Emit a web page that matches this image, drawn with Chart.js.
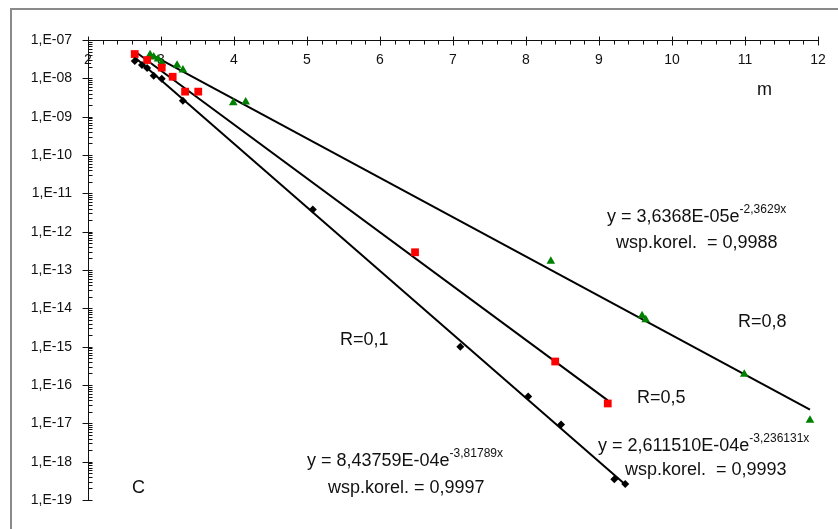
<!DOCTYPE html>
<html>
<head>
<meta charset="utf-8">
<script src="https://cdn.jsdelivr.net/npm/chart.js@4.4.1/dist/chart.umd.min.js"></script>
<style>
  body { margin: 0; background: #fff; }
  canvas { display: block; }
</style>
</head>
<body>
<canvas id="chart" width="838" height="529"></canvas>
<script>
// R=0,1 - black diamonds
const xR01 = [2.64, 2.74, 2.81, 2.90, 3.01, 3.30, 5.08, 7.10, 8.03, 8.48, 9.21, 9.36];
const yR01 = [2.85e-8, 2.24e-8, 1.87e-8, 1.16e-8, 9.8e-9, 2.6e-9, 3.8e-12, 1.0e-15, 5.0e-17, 9.3e-18, 3.5e-19, 2.6e-19];
// R=0,5 - red squares
const xR05 = [2.64, 2.81, 3.01, 3.16, 3.33, 3.51, 6.48, 8.40, 9.12];
const yR05 = [4.3e-8, 3.0e-8, 1.9e-8, 1.1e-8, 4.5e-9, 4.5e-9, 2.9e-13, 4.1e-16, 3.3e-17];
// R=0,8 - green triangles
const xR08 = [2.85, 2.90, 2.96, 3.01, 3.22, 3.30, 3.99, 4.16, 8.34, 9.59, 9.64, 10.99, 11.89];
const yR08 = [4.1e-8, 3.6e-8, 3.2e-8, 2.5e-8, 2.2e-8, 1.66e-8, 2.3e-9, 2.4e-9, 1.7e-13, 6.4e-15, 5.0e-15, 1.9e-16, 1.2e-17];

// trend line end points
const fitX01 = [2.64, 9.36];
const fitY01 = [3.54e-8, 2.55e-19];
const fitX05 = [2.64, 9.12];
const fitY05 = [5.09e-8, 3.97e-17];
const fitX08 = [2.85, 11.89];
const fitY08 = [4.33e-8, 2.29e-17];

const xTicks = [2, 3, 4, 5, 6, 7, 8, 9, 10, 11, 12];
const yTickValues = [1e-7, 1e-8, 1e-9, 1e-10, 1e-11, 1e-12, 1e-13, 1e-14, 1e-15, 1e-16, 1e-17, 1e-18, 1e-19];
const yTickLabels = ['1,E-07', '1,E-08', '1,E-09', '1,E-10', '1,E-11', '1,E-12', '1,E-13', '1,E-14', '1,E-15', '1,E-16', '1,E-17', '1,E-18', '1,E-19'];

// text on the plot: [text, superscript, left, middle]
const notes = [
  ['y = 3,6368E-05e', '-2,3629x', 607, 217],
  ['wsp.korel.  = 0,9988', '', 616, 243],
  ['R=0,8', '', 738, 322],
  ['R=0,1', '', 340, 340],
  ['R=0,5', '', 637, 398],
  ['y = 2,611510E-04e', '-3,236131x', 598, 446],
  ['wsp.korel.  = 0,9993', '', 625, 470],
  ['y = 8,43759E-04e', '-3,81789x', 307, 461],
  ['wsp.korel. = 0,9997', '', 328, 488],
  ['C', '', 132, 488],
  ['m', '', 757, 90]
];

const FONT = '"Liberation Sans", Arial, sans-serif';

function pts(xs, ys) {
  return xs.map((x, i) => ({ x: x, y: ys[i] }));
}

const excelAxes = {
  id: 'excelAxes',
  afterDatasetsDraw(chart) {
    const ctx = chart.ctx;
    const xs = chart.scales.x;
    const ys = chart.scales.y;
    const a = chart.chartArea;
    ctx.save();

    // outer frame
    ctx.strokeStyle = '#8a8a8a';
    ctx.lineWidth = 2;
    ctx.beginPath();
    ctx.moveTo(11, 529);
    ctx.lineTo(11, 9);
    ctx.lineTo(838, 9);
    ctx.stroke();

    ctx.strokeStyle = '#111';
    ctx.lineWidth = 1;
    ctx.beginPath();
    const top = Math.round(a.top) + 0.5;
    const left = Math.round(a.left) + 0.5;
    ctx.moveTo(a.left, top);
    ctx.lineTo(a.right, top);
    ctx.moveTo(left, a.top);
    ctx.lineTo(left, a.bottom);

    xTicks.forEach(v => {
      const p = Math.round(xs.getPixelForValue(v)) + 0.5;
      ctx.moveTo(p, top - 4);
      ctx.lineTo(p, top + 5);
    });
    for (let i = 0; i < 50; i++) {
      if (i % 5 === 0) continue;
      const p = Math.round(xs.getPixelForValue(2 + i * 0.2)) + 0.5;
      ctx.moveTo(p, top);
      ctx.lineTo(p, top + 4);
    }
    yTickValues.forEach(v => {
      const p = Math.round(ys.getPixelForValue(v)) + 0.5;
      ctx.moveTo(left - 6, p);
      ctx.lineTo(left + 4, p);
      if (v < 1e-7) {
        for (let m = 2; m <= 9; m++) {
          const q = Math.round(ys.getPixelForValue(v * m)) + 0.5;
          ctx.moveTo(left, q);
          ctx.lineTo(left + 4, q);
        }
      }
    });
    ctx.stroke();

    // notes
    ctx.fillStyle = '#111';
    ctx.textBaseline = 'middle';
    ctx.textAlign = 'left';
    notes.forEach(n => {
      ctx.font = '18px ' + FONT;
      ctx.fillText(n[0], n[2], n[3]);
      if (n[1]) {
        const w = ctx.measureText(n[0]).width;
        ctx.font = '12px ' + FONT;
        ctx.fillText(n[1], n[2] + w, n[3] - 7);
      }
    });
    ctx.restore();
  }
};

new Chart(document.getElementById('chart'), {
  type: 'scatter',
  data: {
    datasets: [
      { label: 'R=0,1', data: pts(xR01, yR01), pointStyle: 'rectRot', pointRadius: 4,
        backgroundColor: '#000', borderColor: '#000', borderWidth: 0, order: 0 },
      { label: 'R=0,5', data: pts(xR05, yR05), pointStyle: 'rect', pointRadius: 5.5,
        backgroundColor: '#ff0000', borderColor: '#ff0000', borderWidth: 0, order: 0 },
      { label: 'R=0,8', data: pts(xR08, yR08), pointStyle: 'triangle', pointRadius: 5,
        backgroundColor: '#008000', borderColor: '#008000', borderWidth: 0, order: 0 },
      { label: 'fit 0,1', data: pts(fitX01, fitY01), showLine: true, pointRadius: 0,
        borderColor: '#000', borderWidth: 2, order: 1 },
      { label: 'fit 0,5', data: pts(fitX05, fitY05), showLine: true, pointRadius: 0,
        borderColor: '#000', borderWidth: 2, order: 1 },
      { label: 'fit 0,8', data: pts(fitX08, fitY08), showLine: true, pointRadius: 0,
        borderColor: '#000', borderWidth: 2, order: 1 }
    ]
  },
  options: {
    responsive: false,
    animation: false,
    layout: { padding: { left: 0, top: 0, right: 20, bottom: 29 } },
    plugins: { legend: { display: false }, tooltip: { enabled: false } },
    scales: {
      x: {
        type: 'linear',
        position: 'top',
        min: 2,
        max: 12,
        grid: { display: false },
        border: { display: false },
        afterFit: s => { s.height = 40; },
        ticks: { stepSize: 1, mirror: true, padding: 12, color: '#111',
          font: { family: FONT, size: 14 } }
      },
      y: {
        type: 'logarithmic',
        min: 1e-19,
        max: 1e-7,
        grid: { display: false },
        border: { display: false },
        afterBuildTicks: s => { s.ticks = yTickValues.slice().reverse().map(v => ({ value: v })); },
        afterFit: s => { s.width = 88; },
        ticks: {
          autoSkip: false,
          padding: 8,
          color: '#111',
          font: { family: FONT, size: 14 },
          callback: v => {
            const i = yTickValues.findIndex(t => Math.abs(Math.log10(t) - Math.log10(v)) < 0.01);
            return i >= 0 ? yTickLabels[i] : '';
          }
        }
      }
    }
  },
  plugins: [excelAxes]
});
</script>
</body>
</html>
